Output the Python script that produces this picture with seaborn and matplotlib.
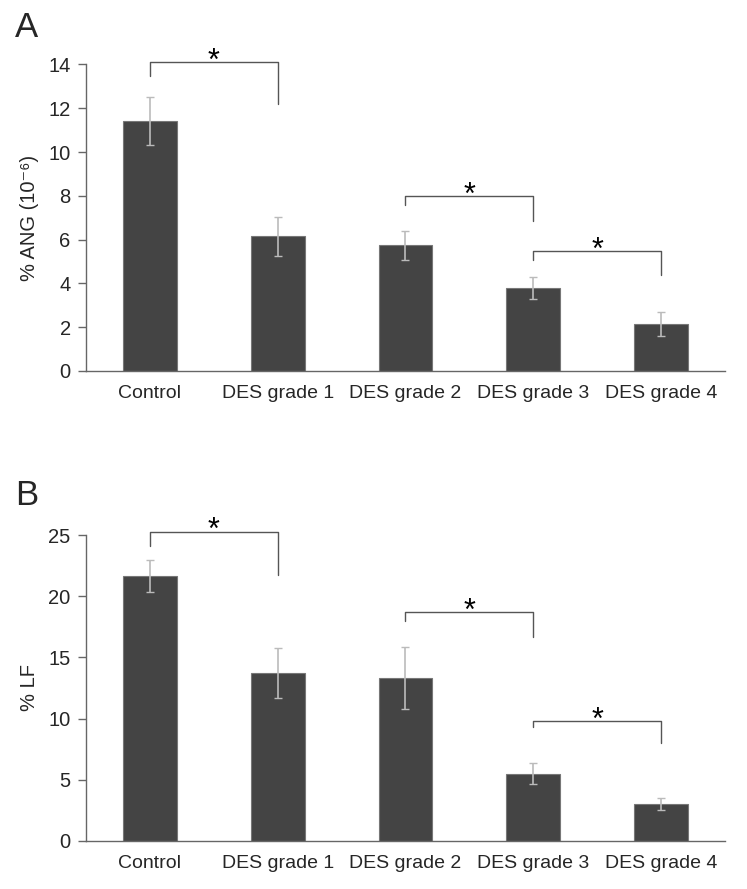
import numpy as np
import pandas as pd
import matplotlib
matplotlib.use("Agg")
import matplotlib.pyplot as plt
import seaborn as sns

# Data
categories = ["Control", "DES grade 1", "DES grade 2", "DES grade 3", "DES grade 4"]

ang_mean = [11.42, 6.16, 5.75, 3.78, 2.15]
ang_err = [1.10, 0.89, 0.66, 0.50, 0.54]

lf_mean = [21.63, 13.70, 13.32, 5.50, 3.02]
lf_err = [1.32, 2.04, 2.51, 0.88, 0.50]

# significance brackets: (left, right, bracket height, left leg end, right leg end)
ang_brackets = [(0, 1, 14.1, 13.47, 12.18), (2, 3, 7.99, 7.58, 6.86), (3, 4, 5.49, 5.07, 4.38)]
lf_brackets = [(0, 1, 25.27, 24.1, 21.76), (2, 3, 18.68, 17.94, 16.69), (3, 4, 9.8, 9.34, 8.03)]

sns.set_style("white")
plt.rcParams['font.family'] = ['Liberation Sans', 'DejaVu Sans']

bar_col = "#444444"
axis_col = "#666666"
err_col = "#bbbbbb"
brk_col = "#555555"


def panel(ax, means, errs, brackets, ymax, step, ylabel):
    df = pd.DataFrame({"cat": categories, "val": means})
    sns.barplot(data=df, x="cat", y="val", ax=ax, color=bar_col, width=0.42,
                saturation=1, edgecolor="#777777", linewidth=0.8, errorbar=None)
    ax.errorbar(np.arange(len(categories)), means, yerr=errs, fmt="none",
                ecolor=err_col, elinewidth=1.2, capsize=3, capthick=1.0)
    for l, r, h, hl, hr in brackets:
        ax.plot([l, l, r, r], [hl, h, h, hr], color=brk_col, lw=1.0, clip_on=False)
        ax.annotate("*", xy=((l + r) / 2, h), xytext=(0, -5.5), textcoords="offset points",
                    ha="center", va="baseline", fontsize=22, color="black",
                    annotation_clip=False)
    ax.set_xlim(-0.5, len(categories) - 0.5)
    ax.set_ylim(0, ymax)
    ax.set_yticks(np.arange(0, ymax + 0.01, step))
    ax.set_xticks(np.arange(len(categories)))
    ax.set_xticklabels(categories)
    ax.set_xticks(np.arange(len(categories) + 1) - 0.5, minor=True)
    ax.tick_params(axis="x", which="major", length=0, pad=10, labelsize=14)
    ax.tick_params(axis="x", which="minor", length=5, width=1, color=axis_col, direction="out")
    ax.tick_params(axis="y", length=6, width=1, color=axis_col, direction="out",
                   pad=5, labelsize=14.5, left=True)
    ax.set_xlabel("")
    ax.set_ylabel(ylabel, fontsize=14.5, labelpad=7)
    sns.despine(ax=ax)
    for s in ["left", "bottom"]:
        ax.spines[s].set_color(axis_col)
        ax.spines[s].set_linewidth(1.0)


fig = plt.figure(figsize=(7.47, 8.89), dpi=100)
ax1 = fig.add_axes([0.1151, 0.5827, 0.8554, 0.3448])
ax2 = fig.add_axes([0.1151, 0.0540, 0.8554, 0.3442])

panel(ax1, ang_mean, ang_err, ang_brackets, 14, 2, "% ANG (10\u207b\u2076)")
panel(ax2, lf_mean, lf_err, lf_brackets, 25, 5, "% LF")

fig.text(0.036, 0.969, "A", fontsize=25, ha="center", va="center")
fig.text(0.036, 0.443, "B", fontsize=25, ha="center", va="center")

fig.savefig("out.png", dpi=100)
